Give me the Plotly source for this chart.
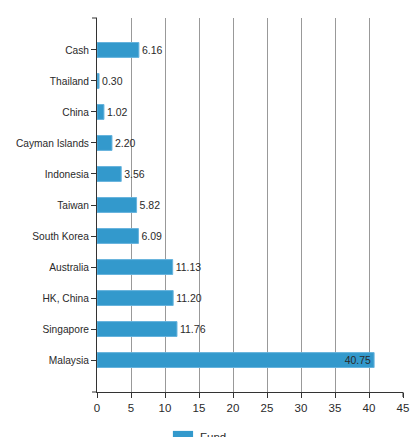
import plotly.graph_objects as go

# Allocation by country (bottom to top as drawn)
countries = ['Malaysia', 'Singapore', 'HK, China', 'Australia', 'South Korea',
             'Taiwan', 'Indonesia', 'Cayman Islands', 'China', 'Thailand', 'Cash']
fund = [40.75, 11.76, 11.20, 11.13, 6.09, 5.82, 3.56, 2.20, 1.02, 0.30, 6.16]
x_ticks = [0, 5, 10, 15, 20, 25, 30, 35, 40, 45]

bar_color = '#3399cc'
text_color = '#2a2a2a'
font = 'Liberation Sans, Arial, sans-serif'
fsize = 10.5

text_pos = ['inside' if v == max(fund) else 'outside' for v in fund]

fig = go.Figure()
fig.add_trace(go.Bar(
    x=fund,
    y=countries,
    orientation='h',
    name='Fund',
    width=0.48,
    marker=dict(color=bar_color, line=dict(color='#66b3dd', width=1)),
    text=[f'{v:.2f}' for v in fund],
    textposition=text_pos,
    insidetextanchor='end',
    constraintext='none',
    textfont=dict(family=font, size=fsize, color=text_color),
    insidetextfont=dict(family=font, size=fsize, color=text_color),
    outsidetextfont=dict(family=font, size=fsize, color=text_color),
    cliponaxis=False,
    showlegend=False,
))

fig.update_layout(
    width=411,
    height=437,
    margin=dict(l=97, r=8, t=18, b=45, autoexpand=False),
    plot_bgcolor='white',
    paper_bgcolor='white',
    font=dict(family=font, size=fsize, color=text_color),
    showlegend=False,
    xaxis=dict(
        range=[0, 45],
        tickvals=x_ticks,
        automargin=False,
        showgrid=True,
        gridcolor='#999999',
        gridwidth=1,
        zeroline=False,
        showline=True,
        linecolor='#333333',
        linewidth=1,
        ticks='outside',
        ticklen=5,
        tickcolor='#333333',
        tickfont=dict(size=11.5, color=text_color),
    ),
    yaxis=dict(
        categoryorder='array',
        categoryarray=countries,
        range=[-1.03, 11.03],
        automargin=False,
        showgrid=False,
        zeroline=False,
        showline=True,
        linecolor='#333333',
        linewidth=1,
        ticks='outside',
        ticklen=5,
        tickcolor='#333333',
        tickfont=dict(size=10.2, color=text_color),
    ),
)

# outer ticks at the ends of the axes
for yv in [0, 1]:
    fig.add_shape(type='line', xref='paper', yref='paper', xsizemode='pixel',
                  xanchor=0, x0=-5, x1=0, y0=yv, y1=yv,
                  line=dict(color='#333333', width=1))
fig.add_shape(type='line', xref='paper', yref='paper', ysizemode='pixel',
              yanchor=0, y0=-5, y1=0, x0=1, x1=1,
              line=dict(color='#333333', width=1))

# legend swatch (mostly cut off at the bottom edge, as in the original)
fig.add_shape(type='rect', xref='paper', yref='paper',
              x0=0.248, x1=0.314, y0=-0.104, y1=-0.131,
              fillcolor=bar_color, line=dict(width=0), layer='above')
fig.add_annotation(text='Fund', xref='paper', yref='paper', x=0.33, y=-0.099,
                   xanchor='left', yanchor='top', showarrow=False,
                   font=dict(size=11.5, color=text_color))

# drop the default page margin so the chart sits at the window's corner
fig.write_html('out.html', config={'displayModeBar': False},
               post_script="document.body.style.margin='0';document.body.style.overflow='hidden';")
